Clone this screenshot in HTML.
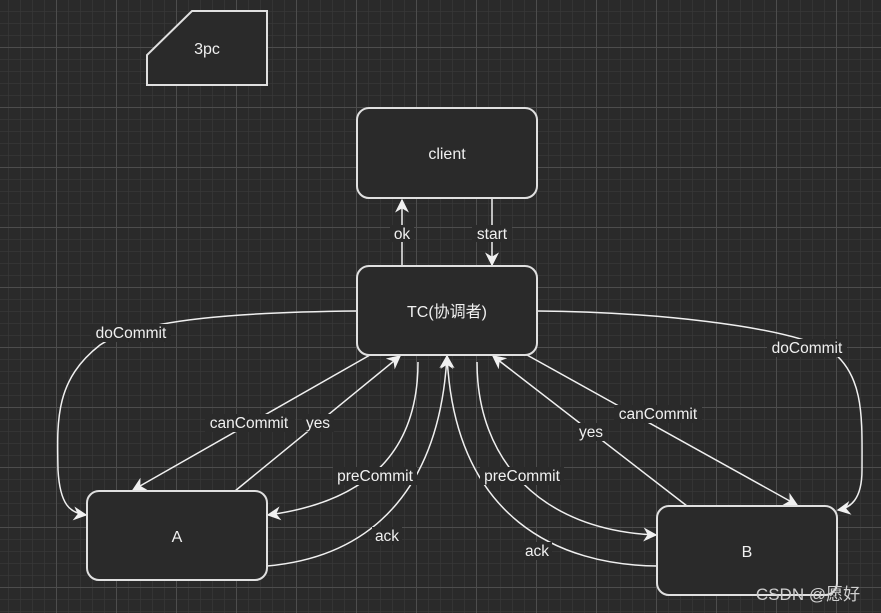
<!DOCTYPE html>
<html><head><meta charset="utf-8"><style>
html,body{margin:0;padding:0;background:#2a2a2a;}
svg{display:block;}
text{font-family:"Liberation Sans","Noto Sans CJK SC",sans-serif;fill:#f0f0f0;}
</style></head><body>
<svg width="881" height="613" viewBox="0 0 881 613" xmlns="http://www.w3.org/2000/svg">
<defs>
<pattern id="minor" x="8" y="11" width="12" height="12" patternUnits="userSpaceOnUse">
<path d="M0 0H12M0 0V12" stroke="#383838" stroke-width="1.5" fill="none"/>
</pattern>
<pattern id="major" x="56" y="47" width="60" height="60" patternUnits="userSpaceOnUse">
<path d="M0 0.5H60M0.5 0V60" stroke="#4d4d4d" stroke-width="1" fill="none"/>
</pattern>
<marker id="ar" viewBox="0 0 10 10" refX="9" refY="5" markerWidth="14" markerHeight="14" markerUnits="userSpaceOnUse" orient="auto">
<path d="M0 0L10 5L0 10L3 5Z" fill="#f0f0f0"/>
</marker>
</defs>
<rect width="881" height="613" fill="#2a2a2a"/>
<rect width="881" height="613" fill="url(#minor)"/>
<rect width="881" height="613" fill="url(#major)"/>

<g stroke="#f0f0f0" stroke-width="1.5" fill="none">
<line x1="402" y1="266" x2="402" y2="200" marker-end="url(#ar)"/>
<line x1="492" y1="198" x2="492" y2="265" marker-end="url(#ar)"/>
<path d="M357 311 C250 312 140 318 100 345 C55 380 57 420 58 470 C60 505 70 513 86 515" marker-end="url(#ar)"/>
<path d="M537 311 C650 312 780 325 830 350 C865 375 862 420 862 470 C862 500 850 508 838 510" marker-end="url(#ar)"/>
<path d="M370 355 L133 490" marker-end="url(#ar)"/>
<path d="M235 491 L400 356" marker-end="url(#ar)"/>
<path d="M418 362 C418 440 380 500 268 515" marker-end="url(#ar)"/>
<path d="M267 566 C380 556 440 480 447 356" marker-end="url(#ar)"/>
<path d="M657 566 C560 565 455 520 447 356" marker-end="url(#ar)"/>
<path d="M477 362 C477 460 540 530 656 535" marker-end="url(#ar)"/>
<path d="M687 506 L493 356" marker-end="url(#ar)"/>
<path d="M527 355 L797 505" marker-end="url(#ar)"/>
</g>

<g stroke="#e0e0e0" stroke-width="2" fill="#2a2a2a">
<polygon points="192,11 267,11 267,85 147,85 147,55"/>
<rect x="357" y="108" width="180" height="90" rx="12"/>
<rect x="357" y="266" width="180" height="89" rx="12"/>
<rect x="87" y="491" width="180" height="89" rx="12"/>
<rect x="657" y="506" width="180" height="89" rx="12"/>
</g>

<g font-size="16" text-anchor="middle">
<text x="207" y="54">3pc</text>
<text x="447" y="159">client</text>
<text x="447" y="317">TC(协调者)</text>
<text x="177" y="542">A</text>
<text x="747" y="557">B</text>
</g>

<g font-size="15.5" text-anchor="middle">
<g fill="#2a2a2a">
<rect x="390" y="225" width="24" height="17"/>
<rect x="472" y="225" width="40" height="17"/>
<rect x="91" y="324" width="80" height="18"/>
<rect x="767" y="339" width="80" height="18"/>
<rect x="205" y="414" width="90" height="18"/>
<rect x="302" y="414" width="32" height="18"/>
<rect x="333" y="467" width="84" height="18"/>
<rect x="480" y="467" width="84" height="18"/>
<rect x="372" y="527" width="30" height="18"/>
<rect x="522" y="542" width="30" height="18"/>
<rect x="576" y="423" width="30" height="18"/>
<rect x="614" y="405" width="88" height="18"/>
</g>
<text x="402" y="239">ok</text>
<text x="492" y="239">start</text>
<text x="131" y="338">doCommit</text>
<text x="807" y="353">doCommit</text>
<text x="249" y="428">canCommit</text>
<text x="318" y="428">yes</text>
<text x="375" y="481">preCommit</text>
<text x="522" y="481">preCommit</text>
<text x="387" y="541">ack</text>
<text x="537" y="556">ack</text>
<text x="591" y="437">yes</text>
<text x="658" y="419">canCommit</text>
</g>
<text x="808" y="600" font-size="17" text-anchor="middle" style="fill:#d0d0d0">CSDN @愿好</text>
</svg>
</body></html>
